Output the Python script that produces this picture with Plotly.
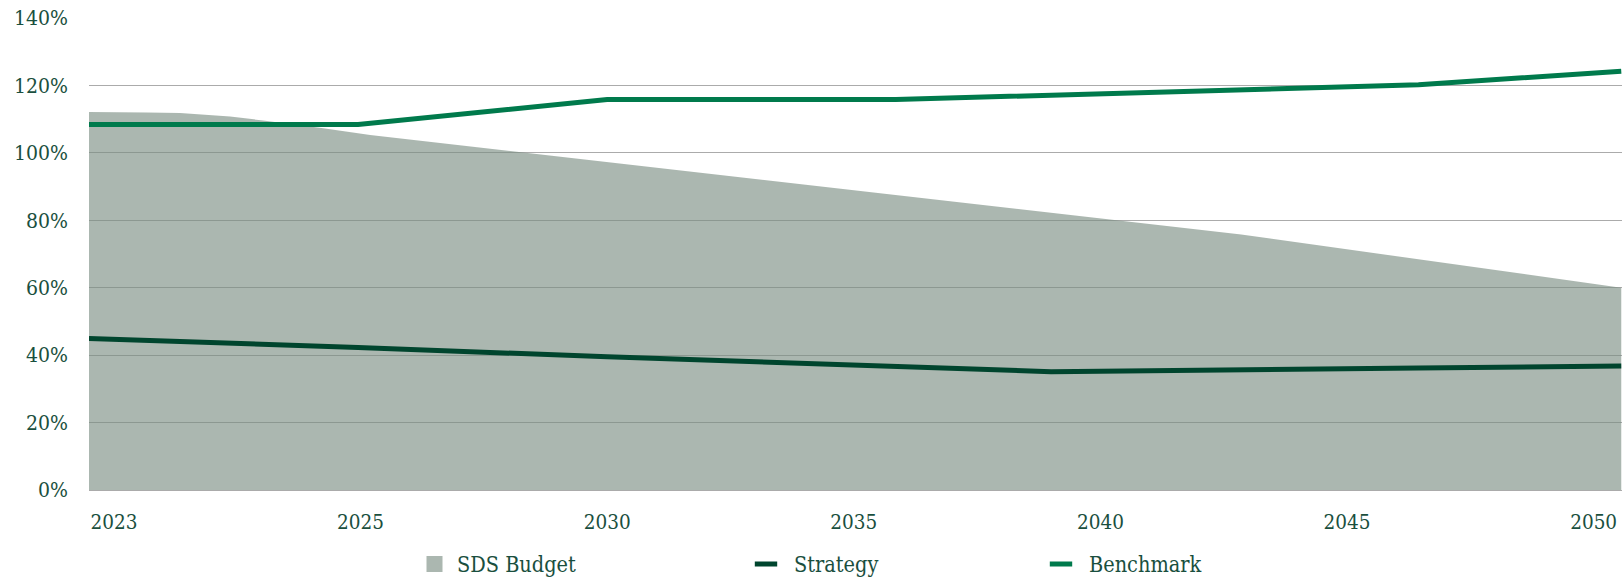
import plotly.graph_objects as go

# Tick labels on the horizontal axis (placed at positions 0..6)
year_labels = ["2023", "2025", "2030", "2035", "2040", "2045", "2050"]
year_pos = [0, 1, 2, 3, 4, 5, 6]

# SDS budget envelope (share, %)
budget_x = [-0.101, 0.134, 0.268, 0.471, 0.605, 0.849, 1.039, 4.571, 6.112]
budget_y = [112.1, 112.0, 111.8, 110.8, 109.6, 107.3, 105.3, 75.8, 60.0]

# Strategy pathway (%)
strategy_x = [-0.101, 0.99, 2.0, 3.17, 3.80, 5.29, 6.112]
strategy_y = [44.9, 42.3, 39.5, 36.7, 35.1, 36.2, 36.8]

# Benchmark pathway (%)
benchmark_x = [-0.101, 0.99, 2.0, 3.17, 5.29, 6.112]
benchmark_y = [108.4, 108.4, 115.8, 115.8, 120.2, 124.2]

y_ticks = [0, 20, 40, 60, 80, 100, 120, 140]
y_labels = [f"{v}%" for v in y_ticks]

TEXT = "#1a4f3e"
FONT = "DejaVu Serif Condensed, DejaVu Serif, serif"
BUDGET_FILL = "rgba(122,141,130,0.63)"
BUDGET_SWATCH = "#abb7b0"
STRATEGY_C = "#00452e"
BENCHMARK_C = "#007a4c"
GRID_C = "#ababab"

W, H = 1623, 580
L, R, T, B = 89, 1, 17.6, 90

fig = go.Figure()

# data traces (legend entries are drawn by the swatch traces below)
fig.add_trace(go.Scatter(
    x=budget_x, y=budget_y, mode="none", fill="tozeroy",
    fillcolor=BUDGET_FILL, showlegend=False, hoverinfo="skip",
))
fig.add_trace(go.Scatter(
    x=strategy_x, y=strategy_y, mode="lines", name="Strategy",
    line=dict(color=STRATEGY_C, width=5), showlegend=False,
))
fig.add_trace(go.Scatter(
    x=benchmark_x, y=benchmark_y, mode="lines", name="Benchmark",
    line=dict(color=BENCHMARK_C, width=5), showlegend=False,
))

# legend swatches
fig.add_trace(go.Scatter(
    x=[None], y=[None], mode="markers", name="SDS Budget",
    marker=dict(symbol="square", size=18, color=BUDGET_SWATCH,
                line=dict(width=0)),
    legend="legend",
))
for name, color, leg in [("Strategy", STRATEGY_C, "legend2"),
                         ("Benchmark", BENCHMARK_C, "legend3")]:
    fig.add_trace(go.Scatter(
        x=[None], y=[None], mode="markers", name=name,
        marker=dict(symbol="line-ew", size=29,
                    line=dict(color=color, width=5)),
        legend=leg,
    ))


def legend_at(px, py, itemwidth):
    return dict(
        xref="container", yref="container",
        x=px / W, y=1 - py / H,
        orientation="h", xanchor="left", yanchor="middle",
        font=dict(family=FONT, size=21.5, color=TEXT),
        bgcolor="rgba(0,0,0,0)", borderwidth=0, itemwidth=itemwidth,
    )


fig.update_layout(
    width=W, height=H,
    margin=dict(l=L, r=R, t=T, b=B, pad=0, autoexpand=False),
    paper_bgcolor="white", plot_bgcolor="white",
    font=dict(family=FONT, color=TEXT, size=20),
    xaxis=dict(
        range=[-0.101, 6.115], tickvals=year_pos, ticktext=year_labels,
        showgrid=False, zeroline=False, showline=False, ticks="",
        ticklabelstandoff=17, tickfont=dict(size=20.5, color=TEXT),
        fixedrange=True,
    ),
    yaxis=dict(
        range=[0, 140], tickvals=y_ticks, ticktext=y_labels,
        showgrid=True, gridcolor=GRID_C, gridwidth=1,
        zeroline=True, zerolinecolor=GRID_C, zerolinewidth=1,
        showline=False, ticks="",
        ticklabelstandoff=20, tickfont=dict(size=21, color=TEXT),
        fixedrange=True,
    ),
    legend=legend_at(412, 564, 35),
    legend2=legend_at(738, 564, 46),
    legend3=legend_at(1033, 564, 46),
    showlegend=True,
)

fig.write_html("out.html")
